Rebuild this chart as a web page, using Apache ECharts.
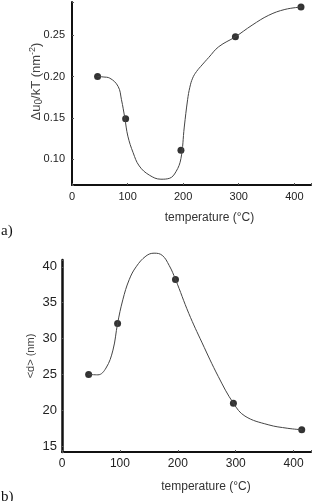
<!DOCTYPE html>
<html>
<head>
<meta charset="utf-8">
<script src="https://cdn.jsdelivr.net/npm/echarts@6/dist/echarts.min.js"></script>
<style>
  html, body { margin: 0; padding: 0; background: #fff; }
  #chart { width: 314px; height: 501px; }
</style>
</head>
<body>
<div id="chart"></div>
<script>
const tempA = [46, 96.5, 196, 294, 412];
const energyA = [0.200, 0.149, 0.111, 0.248, 0.284];
const tempB = [46, 96, 196, 296, 414];
const sizeB = [25.0, 32.1, 38.25, 21.0, 17.3];

// hand-drawn guide curves
const curveAx = [46, 56, 68, 83, 89, 95, 100.5, 110, 121, 139, 160, 175, 187, 196, 202, 208, 212, 217, 224, 234, 246, 264, 294, 324, 354, 383, 413];
const curveAy = [0.200, 0.1995, 0.198, 0.188, 0.172, 0.150, 0.128, 0.108, 0.092, 0.081, 0.076, 0.077, 0.085, 0.101, 0.139, 0.172, 0.187, 0.198, 0.206, 0.214, 0.223, 0.236, 0.248, 0.262, 0.274, 0.281, 0.284];
const curveBx = [46, 62, 76, 88, 96, 105, 116, 128, 145, 159, 173, 185, 196, 219, 242, 270, 296, 316, 356, 390, 414];
const curveBy = [25.0, 24.95, 25.9, 28.4, 32.1, 35.4, 38.2, 40.0, 41.5, 41.9, 41.6, 40.2, 38.25, 33.5, 29.4, 24.7, 21.0, 19.2, 18.0, 17.5, 17.3];

const zip = (a, b) => a.map((v, i) => [v, b[i]]);
const font = 'Liberation Sans';

function onStep(v, step, digits) {
  const k = v / step;
  return Math.abs(k - Math.round(k)) < 1e-6 ? v.toFixed(digits) : '';
}

function xAx(idx, pad) {
  return {
    type: 'value', gridIndex: idx, min: 0, max: 430,
    name: 'temperature (°C)', nameLocation: 'middle', nameGap: idx ? 29 : 27,
    nameTextStyle: { fontFamily: font, fontSize: 12, color: '#333', padding: [0, 0, 0, pad] },
    axisLine: { lineStyle: { color: '#111', width: 2 } },
    axisTick: { inside: true, length: 2, lineStyle: { color: '#555' } },
    axisLabel: { fontFamily: font, fontSize: idx ? 12 : 11, color: '#222', margin: 6,
      formatter: v => onStep(v, 100, 0) },
    splitLine: { show: false }
  };
}

const chart = echarts.init(document.getElementById('chart'));
chart.setOption({
  animation: false,
  grid: [
    { left: 72, top: 2, width: 241, height: 183 },
    { left: 62, top: 260, width: 251, height: 192 }
  ],
  xAxis: [xAx(0, 36), xAx(1, 39)],
  yAxis: [
    {
      type: 'value', gridIndex: 0, min: 0.069, max: 0.29,
      name: '{a|Δu}{s|0}{a|/kT (nm}{p|-2}{a|)}', nameLocation: 'middle', nameGap: 28,
      nameMoveOverlap: false,
      nameTextStyle: {
        padding: [0, 0, 0, 24],
        rich: {
          a: { fontFamily: font, fontSize: 13, color: '#444', lineHeight: 16 },
          s: { fontFamily: font, fontSize: 10, color: '#444', lineHeight: 16, verticalAlign: 'bottom', padding: [7, 0, 0, 0] },
          p: { fontFamily: font, fontSize: 9, color: '#444', lineHeight: 16, verticalAlign: 'top', padding: [0, 0, 6, 0] }
        }
      },
      axisLine: { show: true, lineStyle: { color: '#111', width: 2 } },
      axisTick: { inside: true, length: 2, lineStyle: { color: '#555' } },
      axisLabel: { fontFamily: font, fontSize: 11, color: '#222', margin: 7,
        formatter: v => onStep(v, 0.05, 2) },
      splitLine: { show: false }
    },
    {
      type: 'value', gridIndex: 1, min: 14.2, max: 40.95,
      name: '<d> (nm)', nameLocation: 'middle', nameGap: 26,
      nameMoveOverlap: false,
      nameTextStyle: { fontFamily: font, fontSize: 11, color: '#444' },
      axisLine: { show: true, lineStyle: { color: '#111', width: 2.5 } },
      axisTick: { inside: true, length: 2, lineStyle: { color: '#555' } },
      axisLabel: { fontFamily: font, fontSize: 13, color: '#222', margin: 5,
        formatter: v => onStep(v, 5, 0) },
      splitLine: { show: false }
    }
  ],
  graphic: [
    { type: 'text', left: 1, top: 224, style: { text: 'a)', font: '15px "Liberation Serif"', fill: '#111' } },
    { type: 'text', left: 1, top: 490, style: { text: 'b)', font: '15px "Liberation Serif"', fill: '#111' } }
  ],
  series: [
    { type: 'line', xAxisIndex: 0, yAxisIndex: 0, data: zip(curveAx, curveAy), smooth: 0.4,
      showSymbol: false, clip: false, lineStyle: { color: '#444', width: 1 } },
    { type: 'scatter', xAxisIndex: 0, yAxisIndex: 0, data: zip(tempA, energyA),
      symbolSize: 7, itemStyle: { color: '#000' } },
    { type: 'line', xAxisIndex: 1, yAxisIndex: 1, data: zip(curveBx, curveBy), smooth: 0.4,
      showSymbol: false, clip: false, lineStyle: { color: '#444', width: 1 } },
    { type: 'scatter', xAxisIndex: 1, yAxisIndex: 1, data: zip(tempB, sizeB),
      symbolSize: 7, itemStyle: { color: '#000' } }
  ]
});
window.addEventListener('resize', () => chart.resize());
</script>
</body>
</html>
